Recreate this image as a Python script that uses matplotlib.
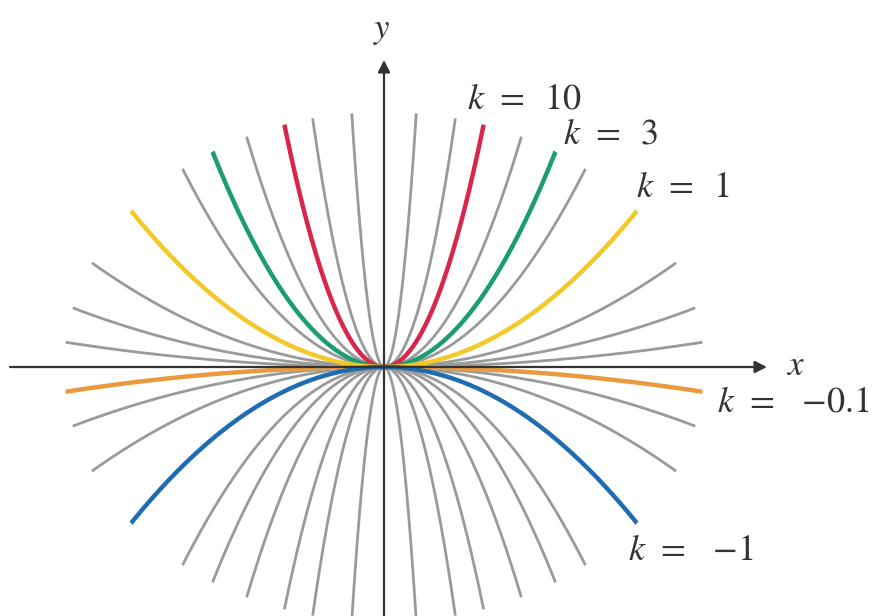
import numpy as np
import matplotlib
matplotlib.use('Agg')
import matplotlib.pyplot as plt
from matplotlib.patches import Ellipse

plt.rcParams['mathtext.fontset'] = 'stix'
plt.rcParams['font.family'] = 'STIXGeneral'

# famille y = k x^2
k_gris = [0.25, 0.5, 2, 5, 20, 100, -0.25, -0.5, -2, -3, -5, -10, -20, -100, 0.1]
k_couleur = [10, 3, 1, -0.1, -1]
couleurs = ['#d8264c', '#1c9c72', '#f2c928', '#ea9a3e', '#1f6db0']
etiquettes = ['$k\\;\\,=\\;\\;10$', '$k\\;\\,=\\;\\;3$', '$k\\;\\,=\\;\\;1$',
              '$k\\;\\,=\\;\\;\\;{-}0.1$', '$k\\;\\,=\\;\\;\\;{-}1$']
pos_etiquettes = [(0.33, 1.72), (0.71, 1.50), (1.00, 1.155),
                  (1.32, -0.23), (0.97, -1.19)]

# demi-axes de l'ellipse qui coupe les courbes
A, B = 1.27, 1.645

fig = plt.figure(figsize=(8.88, 6.16), dpi=100)
ax = fig.add_axes([0, 0, 1, 1])
ax.set_xlim(-384 / 252, 504 / 252)
ax.set_ylim(-249 / 155, 367 / 155)
ax.axis('off')

x = np.linspace(-1.3, 1.3, 2000)
clip = Ellipse((0, 0), 2 * A, 2 * B, transform=ax.transData)

for k in k_gris:
    l, = ax.plot(x, k * x**2, color='#9a9a9a', lw=2.0, zorder=2)
    l.set_clip_path(clip)
for k, c in zip(k_couleur, couleurs):
    l, = ax.plot(x, k * x**2, color=c, lw=3.2, zorder=3)
    l.set_clip_path(clip)

# axes
ax.annotate('', xy=(383 / 252, 0), xytext=(-374 / 252, 0),
            arrowprops=dict(arrowstyle='-|>', color='#333333', lw=1.6,
                            mutation_scale=18, shrinkA=0, shrinkB=0), zorder=4)
ax.annotate('', xy=(0, 307 / 155), xytext=(0, -249 / 155),
            arrowprops=dict(arrowstyle='-|>', color='#333333', lw=1.6,
                            mutation_scale=18, shrinkA=0, shrinkB=0), zorder=4)
ax.text(1.60, 0.0, '$x$', fontsize=25, color='#333333', ha='left', va='center')
ax.text(-0.01, 2.17, '$y$', fontsize=25, color='#333333', ha='center', va='center')

for t, (px, py) in zip(etiquettes, pos_etiquettes):
    ax.text(px, py, t, fontsize=26, color='#333333', ha='left', va='center')

plt.savefig('out.png', dpi=100)
